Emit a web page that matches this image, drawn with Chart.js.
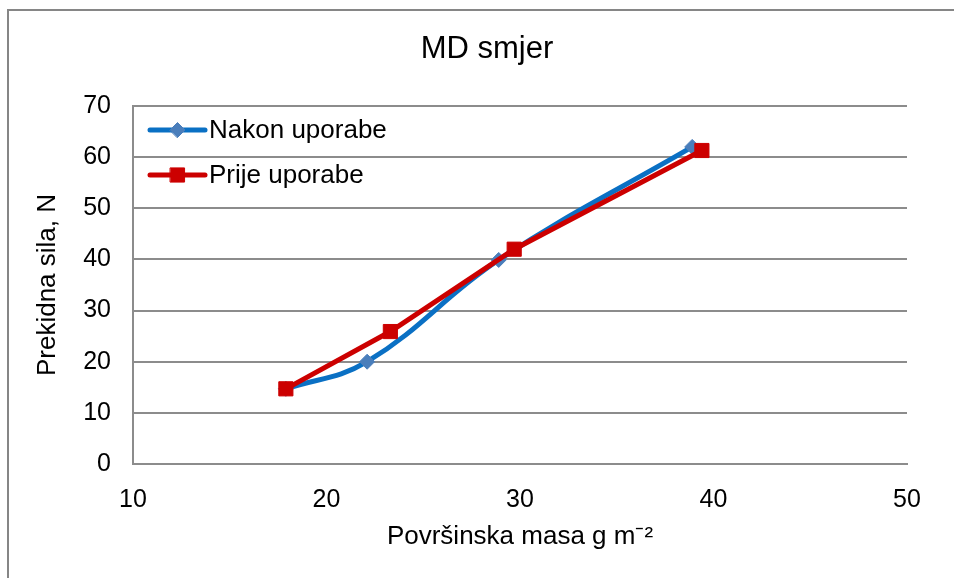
<!DOCTYPE html>
<html>
<head>
<meta charset="utf-8">
<script src="https://cdn.jsdelivr.net/npm/chart.js@4.4.1/dist/chart.umd.min.js"></script>
<style>
  html, body { margin: 0; padding: 0; background: #fff; }
  canvas { display: block; }
</style>
</head>
<body>
<canvas id="grafico" width="954" height="578"></canvas>
<script>
// Podaci očitani sa slike
const nakonX = [17.9, 22.1, 28.9, 38.9];
const nakonY = [14.7, 20.0, 39.9, 62.0];
const prijeX = [17.9, 23.3, 29.7, 39.4];
const prijeY = [14.7, 25.9, 42.0, 61.3];
const xTicks = [10, 20, 30, 40, 50];
const yTicks = [0, 10, 20, 30, 40, 50, 60, 70];
const naslov = 'MD smjer';

const FONT = "'Liberation Sans', Arial, sans-serif";
const GRID = '#8c8c8c';

function toPoints(xs, ys) {
    return xs.map((x, i) => ({ x: x, y: ys[i] }));
}

// okvir grafikona (lijevo i gore vidljivo) + naslov centriran na cijeloj slici
const okvir = {
    id: 'okvir',
    beforeDraw(chart) {
        const c = chart.ctx;
        c.save();
        c.fillStyle = '#fff';
        c.fillRect(0, 0, chart.width, chart.height);
        c.strokeStyle = '#868686';
        c.lineWidth = 2;
        c.strokeRect(8, 10, chart.width + 20, chart.height + 20);
        c.fillStyle = '#000';
        c.font = '31px ' + FONT;
        c.textAlign = 'center';
        c.textBaseline = 'middle';
        c.fillText(naslov, 487, 49);
        c.restore();
    }
};

// legenda unutar područja grafikona, linija s oznakom
const legenda = {
    id: 'legenda',
    afterDraw(chart) {
        const c = chart.ctx;
        const x0 = 150, x1 = 205;
        c.save();
        chart.data.datasets.forEach((ds, i) => {
            const y = 130 + i * 45;
            c.strokeStyle = ds.borderColor;
            c.lineWidth = ds.borderWidth;
            c.lineCap = 'round';
            c.beginPath();
            c.moveTo(x0, y);
            c.lineTo(x1, y);
            c.stroke();
            c.fillStyle = ds.pointBackgroundColor;
            c.strokeStyle = ds.pointBorderColor;
            c.lineWidth = 1;
            Chart.helpers.drawPoint(c, {
                pointStyle: ds.pointStyle,
                radius: ds.pointRadius,
                borderWidth: 1,
                rotation: 0
            }, (x0 + x1) / 2, y);
            c.fillStyle = '#000';
            c.font = '26px ' + FONT;
            c.textBaseline = 'middle';
            c.fillText(ds.label, 209, y + 1);
        });
        c.restore();
    }
};

const ctx = document.getElementById('grafico').getContext('2d');

const chart = new Chart(ctx, {
    type: 'line',
    data: {
        datasets: [{
            label: 'Nakon uporabe',
            data: toPoints(nakonX, nakonY),
            borderColor: '#0a70c4',
            borderWidth: 5,
            tension: 0.4,
            pointStyle: 'rectRot',
            pointRadius: 7.5,
            pointBackgroundColor: '#4a7ebb',
            pointBorderColor: '#4a7ebb',
            pointBorderWidth: 1,
            order: 1
        }, {
            label: 'Prije uporabe',
            data: toPoints(prijeX, prijeY),
            borderColor: '#cc0000',
            borderWidth: 5,
            tension: 0,
            pointStyle: 'rect',
            pointRadius: 10,
            pointBackgroundColor: '#cc0000',
            pointBorderColor: '#cc0000',
            pointBorderWidth: 1,
            order: 0
        }]
    },
    options: {
        responsive: false,
        animation: false,
        layout: { padding: { left: 0, right: 47, top: 106, bottom: 0 } },
        plugins: {
            legend: { display: false },
            tooltip: { enabled: false },
            title: { display: false }
        },
        scales: {
            x: {
                type: 'linear',
                min: 10,
                max: 50,
                afterBuildTicks(scale) { scale.ticks = xTicks.map(v => ({ value: v })); },
                afterFit(scale) { scale.height = 114; },
                grid: { display: false, drawTicks: false },
                border: { display: true, color: GRID, width: 2 },
                ticks: { color: '#000', padding: 21, font: { family: FONT, size: 25 } },
                title: {
                    display: true,
                    text: 'Površinska masa g m⁻²',
                    color: '#000',
                    font: { family: FONT, size: 26 },
                    padding: { top: 0, bottom: 26 }
                }
            },
            y: {
                min: 0,
                max: 70,
                afterBuildTicks(scale) { scale.ticks = yTicks.map(v => ({ value: v })); },
                afterFit(scale) { scale.width = 133; },
                grid: { color: GRID, lineWidth: 2, drawTicks: false },
                border: { display: true, color: GRID, width: 2 },
                ticks: { color: '#000', padding: 22, font: { family: FONT, size: 25 } },
                title: {
                    display: true,
                    text: 'Prekidna sila, N',
                    color: '#000',
                    font: { family: FONT, size: 26 },
                    padding: { top: 32, bottom: 0 }
                }
            }
        }
    },
    plugins: [okvir, legenda]
});
</script>
</body>
</html>
